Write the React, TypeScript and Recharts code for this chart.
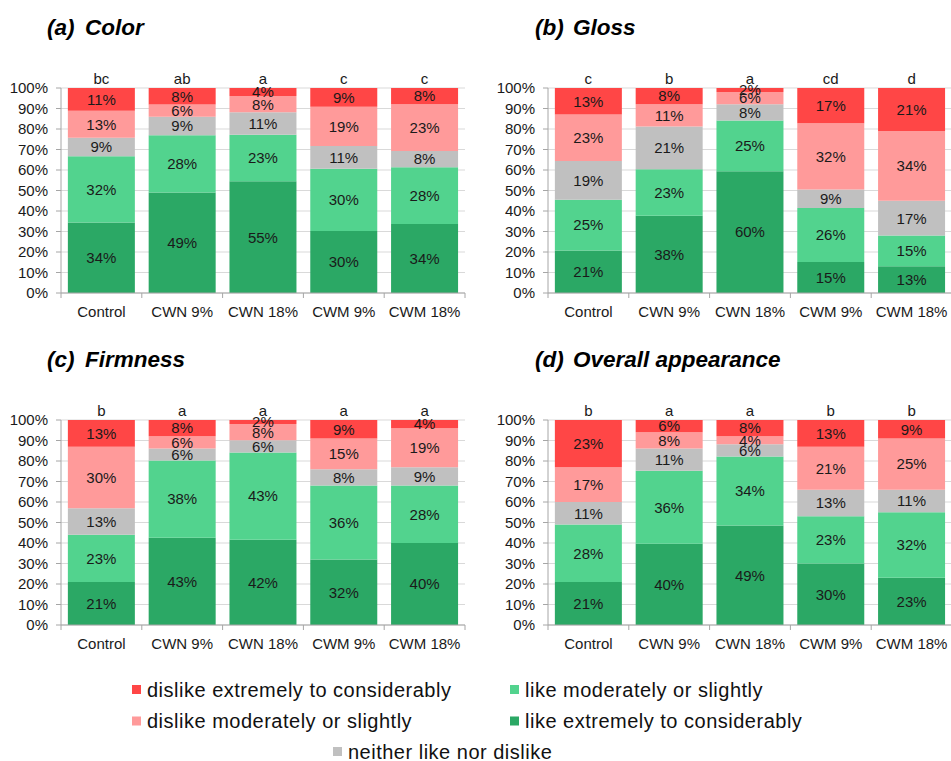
import React from "react";
import { BarChart, Bar, XAxis, YAxis, CartesianGrid, LabelList } from "recharts";

const categories = ["Control", "CWN 9%", "CWN 18%", "CWM 9%", "CWM 18%"];
const yTicks = [0, 0.1, 0.2, 0.3, 0.4, 0.5, 0.6, 0.7, 0.8, 0.9, 1];

// stack order bottom -> top
const seriesKeys = ["likeExt", "likeMod", "neither", "dislikeMod", "dislikeExt"];
const seriesNames = [
  "like extremely to considerably",
  "like moderately or slightly",
  "neither like nor dislike",
  "dislike moderately or slightly",
  "dislike extremely to considerably",
];
const seriesColors = ["#2BA865", "#52D38E", "#C0C0C0", "#FF9A9A", "#FF4646"];

// (a) Color
const colorLikeExt = [34, 49, 55, 30, 34];
const colorLikeMod = [32, 28, 23, 30, 28];
const colorNeither = [9, 9, 11, 11, 8];
const colorDislikeMod = [13, 6, 8, 19, 23];
const colorDislikeExt = [11, 8, 4, 9, 8];
const colorLetters = ["bc", "ab", "a", "c", "c"];

// (b) Gloss
const glossLikeExt = [21, 38, 60, 15, 13];
const glossLikeMod = [25, 23, 25, 26, 15];
const glossNeither = [19, 21, 8, 9, 17];
const glossDislikeMod = [23, 11, 6, 32, 34];
const glossDislikeExt = [13, 8, 2, 17, 21];
const glossLetters = ["c", "b", "a", "cd", "d"];

// (c) Firmness
const firmLikeExt = [21, 43, 42, 32, 40];
const firmLikeMod = [23, 38, 43, 36, 28];
const firmNeither = [13, 6, 6, 8, 9];
const firmDislikeMod = [30, 6, 8, 15, 19];
const firmDislikeExt = [13, 8, 2, 9, 4];
const firmLetters = ["b", "a", "a", "a", "a"];

// (d) Overall appearance
const overallLikeExt = [21, 40, 49, 30, 23];
const overallLikeMod = [28, 36, 34, 23, 32];
const overallNeither = [11, 11, 6, 13, 11];
const overallDislikeMod = [17, 8, 4, 21, 25];
const overallDislikeExt = [23, 6, 8, 13, 9];
const overallLetters = ["b", "a", "a", "b", "b"];

const FONT = '"Liberation Sans", Arial, sans-serif';
const AXIS = "#A6A6A6";
const GRID = "#D9D9D9";
const CHART_W = 470;
const CHART_H = 274;
const Y_W = 61;
const RIGHT = 5;
const CAT_W = (CHART_W - Y_W - RIGHT) / categories.length;

function buildRows(series: number[][], letters: string[]) {
  return categories.map((name, i) => {
    const row: Record<string, string | number> = { name, letter: letters[i] };
    seriesKeys.forEach((k, s) => {
      row[k] = series[s][i];
    });
    return row;
  });
}

const panels = [
  {
    tag: "(a)",
    title: "Color",
    left: 0,
    top: 60,
    rows: buildRows([colorLikeExt, colorLikeMod, colorNeither, colorDislikeMod, colorDislikeExt], colorLetters),
  },
  {
    tag: "(b)",
    title: "Gloss",
    left: 487,
    top: 60,
    rows: buildRows([glossLikeExt, glossLikeMod, glossNeither, glossDislikeMod, glossDislikeExt], glossLetters),
  },
  {
    tag: "(c)",
    title: "Firmness",
    left: 0,
    top: 392,
    rows: buildRows([firmLikeExt, firmLikeMod, firmNeither, firmDislikeMod, firmDislikeExt], firmLetters),
  },
  {
    tag: "(d)",
    title: "Overall appearance",
    left: 487,
    top: 392,
    rows: buildRows([overallLikeExt, overallLikeMod, overallNeither, overallDislikeMod, overallDislikeExt], overallLetters),
  },
];

const XTick = (props: any) => {
  const { x, y, payload, index } = props;
  return (
    <g>
      <line x1={x - CAT_W / 2} x2={x - CAT_W / 2} y1={y} y2={y + 5} stroke={AXIS} />
      {index === categories.length - 1 && (
        <line x1={x + CAT_W / 2} x2={x + CAT_W / 2} y1={y} y2={y + 5} stroke={AXIS} />
      )}
      <text
        x={x}
        y={y + 18.5}
        textAnchor="middle"
        dominantBaseline="central"
        fontSize={15}
        fontFamily={FONT}
        fill="#1a1a1a"
      >
        {payload.value}
      </text>
    </g>
  );
};

const labelStyle = { fontSize: 15, fontFamily: FONT, fill: "#1a1a1a" };

function Panel({ rows }: { rows: Record<string, string | number>[] }) {
  return (
    <BarChart
      width={CHART_W}
      height={CHART_H}
      data={rows}
      stackOffset="expand"
      barCategoryGap="8.5%"
      margin={{ top: 28, right: RIGHT, bottom: 0, left: 0 }}
    >
      <CartesianGrid vertical={false} stroke={GRID} />
      <XAxis
        dataKey="name"
        height={41}
        interval={0}
        tickLine={false}
        tickSize={0}
        tickMargin={0}
        axisLine={{ stroke: AXIS }}
        tick={<XTick />}
      />
      <YAxis
        type="number"
        domain={[0, 1]}
        ticks={yTicks}
        interval={0}
        width={Y_W}
        tickSize={5}
        tickMargin={8}
        axisLine={{ stroke: AXIS }}
        tickLine={{ stroke: AXIS }}
        tick={{ fontSize: 15, fontFamily: FONT, fill: "#1a1a1a" }}
        tickFormatter={(v: number) => `${Math.round(v * 100)}%`}
      />
      {seriesKeys.map((k, s) => (
        <Bar key={k} dataKey={k} stackId="a" fill={seriesColors[s]} name={seriesNames[s]} isAnimationActive={false}>
          <LabelList dataKey={k} position="center" formatter={(v: any) => `${v}%`} style={labelStyle} />
          {k === "dislikeExt" && <LabelList dataKey="letter" position="top" offset={4} style={labelStyle} />}
        </Bar>
      ))}
    </BarChart>
  );
}

const legendItems = [
  { s: 4, sq: 132, tx: 147, cy: 689.5 },
  { s: 1, sq: 510, tx: 525, cy: 689.5 },
  { s: 3, sq: 132, tx: 147, cy: 721 },
  { s: 0, sq: 510, tx: 525, cy: 721 },
  { s: 2, sq: 333, tx: 348, cy: 751.5 },
];

export default function App() {
  return (
    <div
      style={{
        position: "absolute",
        left: 0,
        top: 0,
        width: 951,
        height: 761,
        overflow: "hidden",
        background: "#fff",
      }}
    >
      {panels.map((p) => (
        <div key={p.tag} style={{ position: "absolute", left: p.left, top: p.top }}>
          <Panel rows={p.rows} />
        </div>
      ))}
      <svg width={951} height={761} style={{ position: "absolute", left: 0, top: 0, pointerEvents: "none" }}>
        {panels.map((p) => {
          const x = p.left === 0 ? 47 : 535;
          const y = p.top - 25;
          return (
            <g key={p.tag} fontFamily={FONT} fontSize={22.5} fontWeight="bold" fontStyle="italic" fill="#000">
              <text x={x} y={y}>{p.tag}</text>
              <text x={x + 38} y={y}>{p.title}</text>
            </g>
          );
        })}
        {legendItems.map((it) => (
          <g key={it.s}>
            <rect x={it.sq} y={it.cy - 4.5} width={9} height={9} fill={seriesColors[it.s]} />
            <text
              x={it.tx}
              y={it.cy}
              dominantBaseline="central"
              fontFamily={FONT}
              fontSize={20}
              letterSpacing={0.5}
              fill="#111"
            >
              {seriesNames[it.s]}
            </text>
          </g>
        ))}
      </svg>
    </div>
  );
}
